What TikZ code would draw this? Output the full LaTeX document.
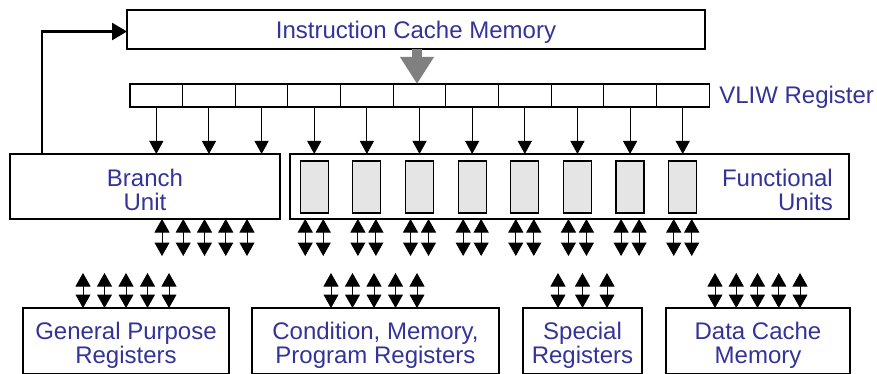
\documentclass[tikz,border=0pt]{standalone}
\usepackage{fontspec}
\setmainfont{Liberation Sans}
\usetikzlibrary{arrows.meta}
\definecolor{labelblue}{RGB}{51,51,153}
\definecolor{unitgray}{RGB}{229,229,229}
\definecolor{busgray}{RGB}{128,128,128}
\tikzset{
  box/.style={draw=black, line width=1.2pt, inner sep=0pt, outer sep=0pt},
  cell/.style={draw=black, line width=1.1pt, inner sep=0pt, outer sep=0pt,
    minimum width=52.64pt, minimum height=23pt},
  fuslot/.style={draw=black, line width=1.2pt, fill=unitgray, inner sep=0pt,
    outer sep=0pt, minimum width=28pt, minimum height=52pt},
  lbl/.style={font=\fontsize{24}{24}\selectfont, text=labelblue, inner sep=0pt, align=center},
  down/.style={line width=1pt, -{Triangle[width=14pt,length=13pt]}},
  bidir/.style={line width=1pt, {Triangle[width=15pt,length=13.5pt]}-{Triangle[width=15pt,length=13.5pt]}},
  feedback/.style={line width=2.6pt, -{Triangle[width=17pt,length=15pt]}},
  fetch/.style={busgray, line width=10pt, -{Triangle[width=32pt,length=27pt]}}
}
\begin{document}
\begin{tikzpicture}[x=1pt, y=-1pt]
\useasboundingbox (0,0) rectangle (877,374);

% instruction cache
\node[box, minimum width=578pt, minimum height=39pt] (icm) at (416,29.5) {};
\node[lbl] (icmlbl) at ([yshift=-2.5pt]icm.center) {Instruction Cache Memory};

% VLIW register: eleven slots
\foreach \i in {1,...,11}
  \node[cell] (c\i) at ({130+52.64*(\i-0.5)},95.5) {};
\node[lbl, anchor=west] (vliwlbl) at ([xshift=10pt,yshift=-2pt]c11.east) {VLIW Register};

% fetch from instruction cache into the register
\draw[fetch] (icm.south -| 417,0) -- (c6.north -| 417,0);

% execution units
\node[box, minimum width=270pt, minimum height=65pt] (branch) at (145,186.5) {};
\node[lbl] (branchlbl) at ([yshift=-3.5pt]branch.center) {Branch\\Unit};
\node[box, minimum width=559pt, minimum height=65pt] (fu) at (569.5,186.5) {};
\node[lbl, align=right, anchor=east] (fulbl) at ([xshift=-16pt,yshift=-3pt]fu.east) {Functional\\Units};
\foreach \i in {4,...,11}
  \node[fuslot] (g\i) at (c\i |- 0,187) {};

% register slots feed the units
\foreach \i in {1,2,3}
  \draw[down] (c\i.south) -- (c\i.south |- branch.north);
\foreach \i in {4,...,11}
  \draw[down] (c\i.south) -- (c\i.south |- fu.north);

% branch target back to the instruction cache
\draw[feedback] (branch.north -| 42,0) |- ([yshift=-2pt]icm.west);

% unit buses
\foreach \x in {162,183.25,204.5,225.75,247}
  \draw[bidir] (branch.south -| \x,0) -- (\x,256);
\foreach \i in {4,...,11}{
  \draw[bidir] ([xshift=-9pt]g\i.center |- fu.south) -- ([xshift=-9pt]g\i.center |- 0,256);
  \draw[bidir] ([xshift=9pt]g\i.center |- fu.south) -- ([xshift=9pt]g\i.center |- 0,256);
}

% register files and data cache
\node[box, minimum width=206pt, minimum height=66pt] (gp) at (126,341) {};
\node[box, minimum width=247pt, minimum height=66pt] (cmp) at (375.5,341) {};
\node[box, minimum width=119pt, minimum height=66pt] (sp) at (582.5,341) {};
\node[box, minimum width=184pt, minimum height=66pt] (dc) at (758,341) {};
\node[lbl] (gplbl) at ([yshift=-4pt]gp.center) {General Purpose\\Registers};
\node[lbl] (cmplbl) at ([yshift=-4pt]cmp.center) {Condition, Memory,\\Program Registers};
\node[lbl] (splbl) at ([yshift=-4pt]sp.center) {Special\\Registers};
\node[lbl] (dclbl) at ([yshift=-4pt]dc.center) {Data Cache\\Memory};

\foreach \x in {83,104.5,126,147.5,169}
  \draw[bidir] (gp.north -| \x,0) -- (\x,273);
\foreach \x in {331,352.5,374,395.5,417}
  \draw[bidir] (cmp.north -| \x,0) -- (\x,273);
\foreach \x in {558,582.5,607}
  \draw[bidir] (sp.north -| \x,0) -- (\x,273);
\foreach \x in {715,736.25,757.5,778.75,800}
  \draw[bidir] (dc.north -| \x,0) -- (\x,273);
\end{tikzpicture}
\end{document}
